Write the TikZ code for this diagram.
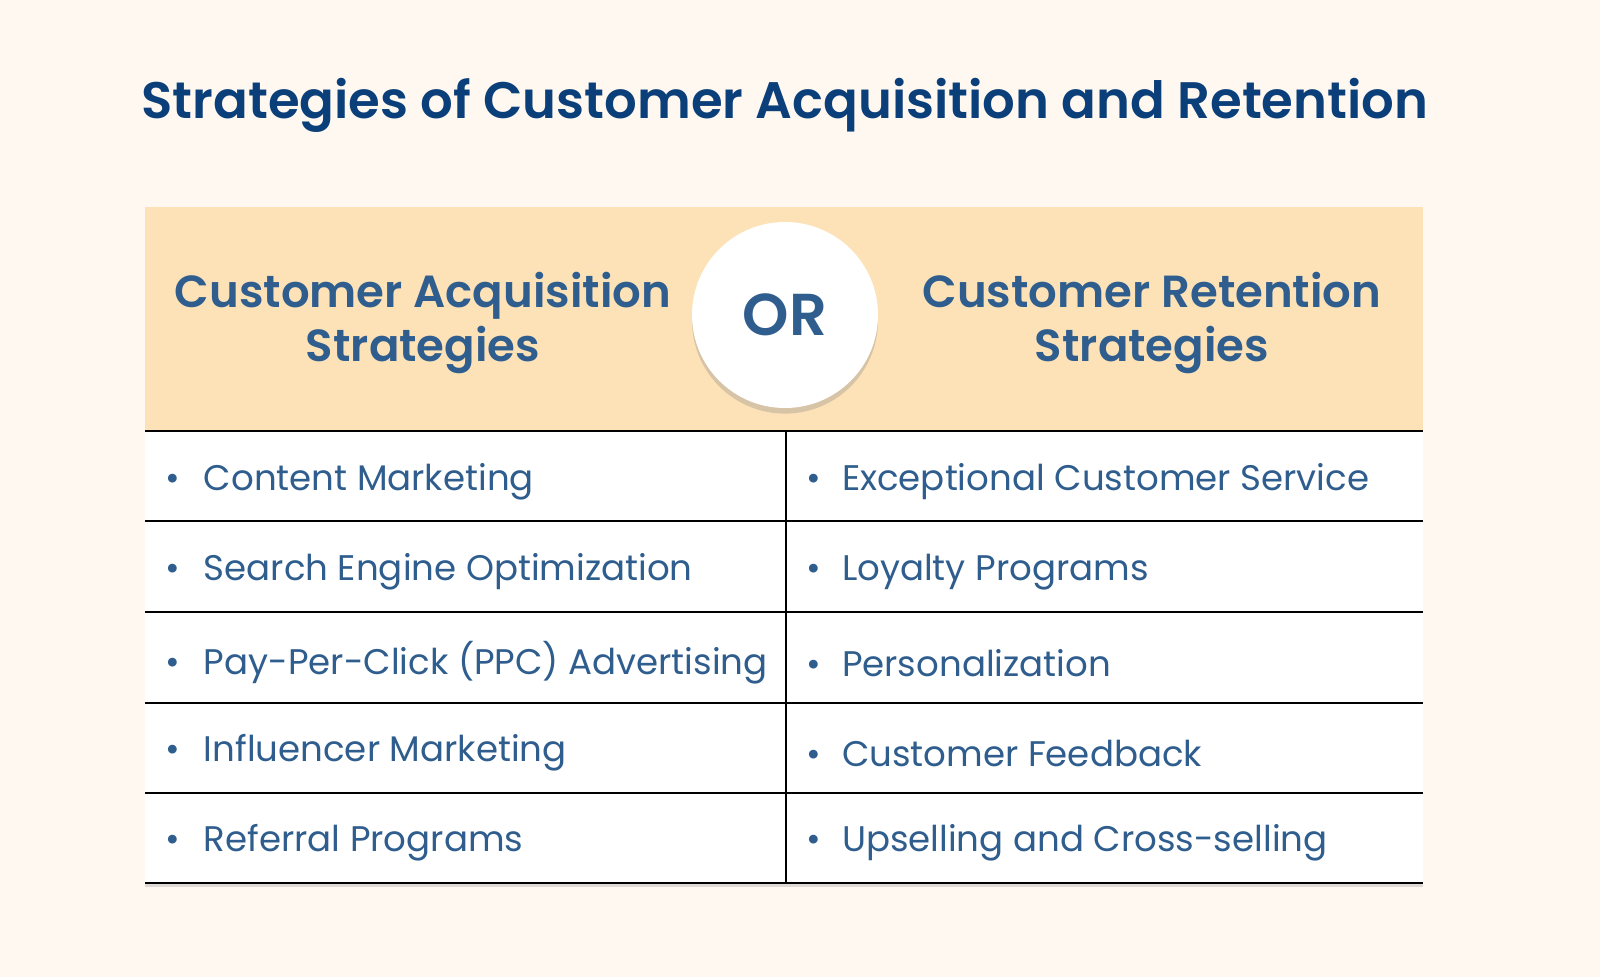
\documentclass[tikz,border=0pt]{standalone}
\usepackage{fontspec}
\setmainfont{Poppins}[BoldFont={Poppins SemiBold}]
\usetikzlibrary{shadows}
\definecolor{bgcol}{HTML}{FEF8F1}
\definecolor{headcol}{HTML}{FDE2B8}
\definecolor{titlecol}{HTML}{0B3F7A}
\definecolor{textcol}{HTML}{2F5E8E}
\tikzset{
  cell/.style={anchor=west, text=textcol, font=\fontsize{25.3}{30}\selectfont, inner sep=0pt},
  headtext/.style={text=textcol, font=\fontsize{32}{38}\selectfont\bfseries, align=center},
}
\begin{document}
\begin{tikzpicture}[x=0.025cm, y=-0.025cm]
  \fill[bgcol] (0,0) rectangle (1600,977);
  \useasboundingbox (0,0) rectangle (1600,977);
  \node[text=titlecol, font=\fontsize{36.5}{44}\selectfont\bfseries] (title) at (785,105) {Strategies of Customer Acquisition and Retention};
  % table body
  \fill[white, drop shadow={opacity=0.25, shadow xshift=0pt, shadow yshift=-3pt}] (145,207) rectangle (1423,883);
  \fill[headcol] (145,207) rectangle (1423,431);
  \foreach \y in {431,521,612,703,793,883}
    \draw[line width=1.2pt] (145,\y) -- (1423,\y);
  \draw[line width=1.2pt] (786,431) -- (786,883);
  % header
  \node[headtext] (acq) at (423,323) {Customer Acquisition\\Strategies};
  \node[headtext] (ret) at (1152,323) {Customer Retention\\Strategies};
  \node[circle, fill=white, minimum size=186*0.025cm, drop shadow={opacity=0.3, shadow xshift=0pt, shadow yshift=-4pt},
        text=textcol, font=\fontsize{42}{50}\selectfont\bfseries] (or) at (785,315) {OR};
  % rows
  \foreach \i/\y/\l/\r in {1/482/Content Marketing/Exceptional Customer Service,
      2/572/Search Engine Optimization/Loyalty Programs,
      3/663/Pay-Per-Click (PPC) Advertising/Personalization,
      4/753/Influencer Marketing/Customer Feedback,
      5/843/Referral Programs/Upselling and Cross-selling} {
    \node[cell] (l\i) at (165,\y) {•\hspace{17pt}\l};
    \node[cell] (r\i) at (806,\y) {•\hspace{15pt}\r};
  }
\end{tikzpicture}
\end{document}
